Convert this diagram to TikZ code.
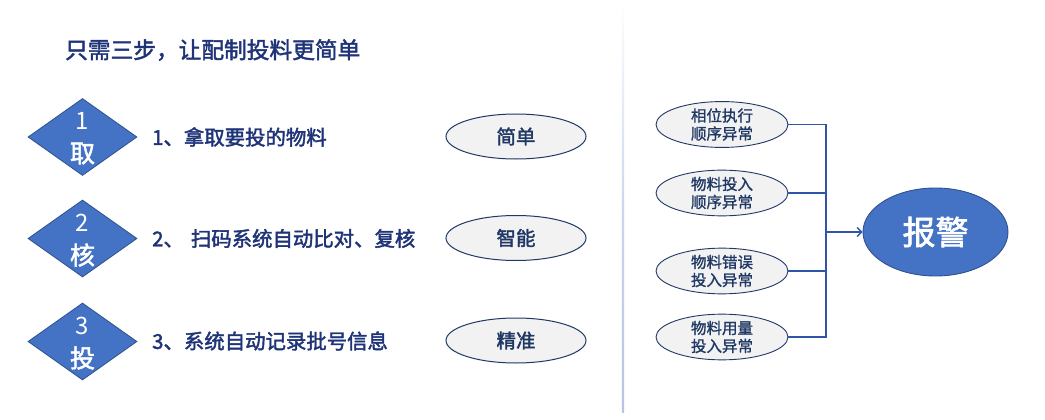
\documentclass[tikz,border=0pt]{standalone}
\usepackage{fontspec}
\setmainfont{Noto Sans CJK SC}
\newfontfamily\medfont[FakeBold=2]{Noto Sans CJK SC}
\newfontfamily\semifont[FakeBold=1.2]{Noto Sans CJK SC}
\usetikzlibrary{shapes.geometric,arrows.meta}
\definecolor{ttl}{HTML}{1F3478}
\definecolor{dblue}{HTML}{4472C4}
\definecolor{dborder}{HTML}{2F528F}
\definecolor{navy}{HTML}{1F3864}
\definecolor{lgray}{HTML}{F2F2F2}
\definecolor{conn}{HTML}{2F55A8}
\definecolor{sepc}{HTML}{B7C4E4}
\tikzset{
  stepdia/.style={diamond, draw=dborder, fill=dblue, line width=0.8pt, minimum width=109pt, minimum height=77pt, inner sep=0pt},
  dnum/.style={text=white, font=\fontsize{24}{24}\selectfont, inner sep=0pt},
  dchar/.style={text=white, font=\medfont\fontsize{25}{25}\selectfont, inner sep=0pt},
  steptext/.style={anchor=west, text=ttl, font=\medfont\fontsize{20.4}{21}\selectfont, inner sep=0pt},
  tagell/.style={ellipse, draw=navy, fill=lgray, line width=1pt, minimum width=140pt, minimum height=45pt, inner sep=0pt, text=navy, font=\medfont\fontsize{19.5}{20}\selectfont},
  errell/.style={ellipse, draw=navy, fill=lgray, line width=0.9pt, minimum width=132pt, minimum height=40pt, inner sep=0pt, text=navy, align=center, font=\semifont\fontsize{15.5}{18}\selectfont},
  alarm/.style={ellipse, draw=dborder, fill=dblue, line width=0.9pt, minimum width=145pt, minimum height=88pt, inner sep=0pt, text=white, font=\medfont\fontsize{33}{33}\selectfont},
  connline/.style={draw=conn, line width=1.4pt},
}
\begin{document}
\begin{tikzpicture}[x=1pt,y=-1pt]
\useasboundingbox (0,0) rectangle (1045,420);
\fill[white] (0,0) rectangle (1045,420);
% separator
\shade[top color=white, bottom color=sepc, middle color=sepc!70!white] (621.8,0) rectangle (624.2,412);
% title
\node[anchor=west, text=ttl, font=\medfont\fontsize{22.7}{23}\selectfont, inner sep=0pt] (title) at (65,50) {只需三步，让配制投料更简单};
% diamonds
\node[stepdia] (d1) at (82.5,137) {};
\node[stepdia] (d2) at (82.5,238.5) {};
\node[stepdia] (d3) at (82.5,341.5) {};
\node[dnum] (n1) at (82.5,121) {1};
\node[dchar] (c1) at (82.5,153.5) {取};
\node[dnum] (n2) at (82.5,222.5) {2};
\node[dchar] (c2) at (82.5,255) {核};
\node[dnum] (n3) at (82.5,325.5) {3};
\node[dchar] (c3) at (82.5,358) {投};
% step texts
\node[steptext] (s1) at (152,137) {1、拿取要投的物料};
\node[steptext] (s2) at (152,238.5) {2、\hspace{7pt}扫码系统自动比对、复核};
\node[steptext] (s3) at (152,341) {3、系统自动记录批号信息};
% tags
\node[tagell] (t1) at (516,136.5) {简单};
\node[tagell] (t2) at (516,238) {智能};
\node[tagell] (t3) at (516,340.5) {精准};
% error ellipses
\node[errell] (e1) at (722,124.5) {相位执行\\顺序异常};
\node[errell] (e2) at (722,193) {物料投入\\顺序异常};
\node[errell] (e3) at (722,271) {物料错误\\投入异常};
\node[errell] (e4) at (722,337) {物料用量\\投入异常};
\node[alarm] (al) at (935.5,232) {报警};
\coordinate (j) at (826,232);
\draw[connline] (e1.east) -| (j);
\draw[connline] (e2.east) -| (j);
\draw[connline] (e3.east) -| (j);
\draw[connline] (e4.east) -| (j);
\draw[connline, -{Straight Barb[length=4.5pt,width=9pt,line width=1.4pt]}] (j) -- (al.west);
\end{tikzpicture}
\end{document}
